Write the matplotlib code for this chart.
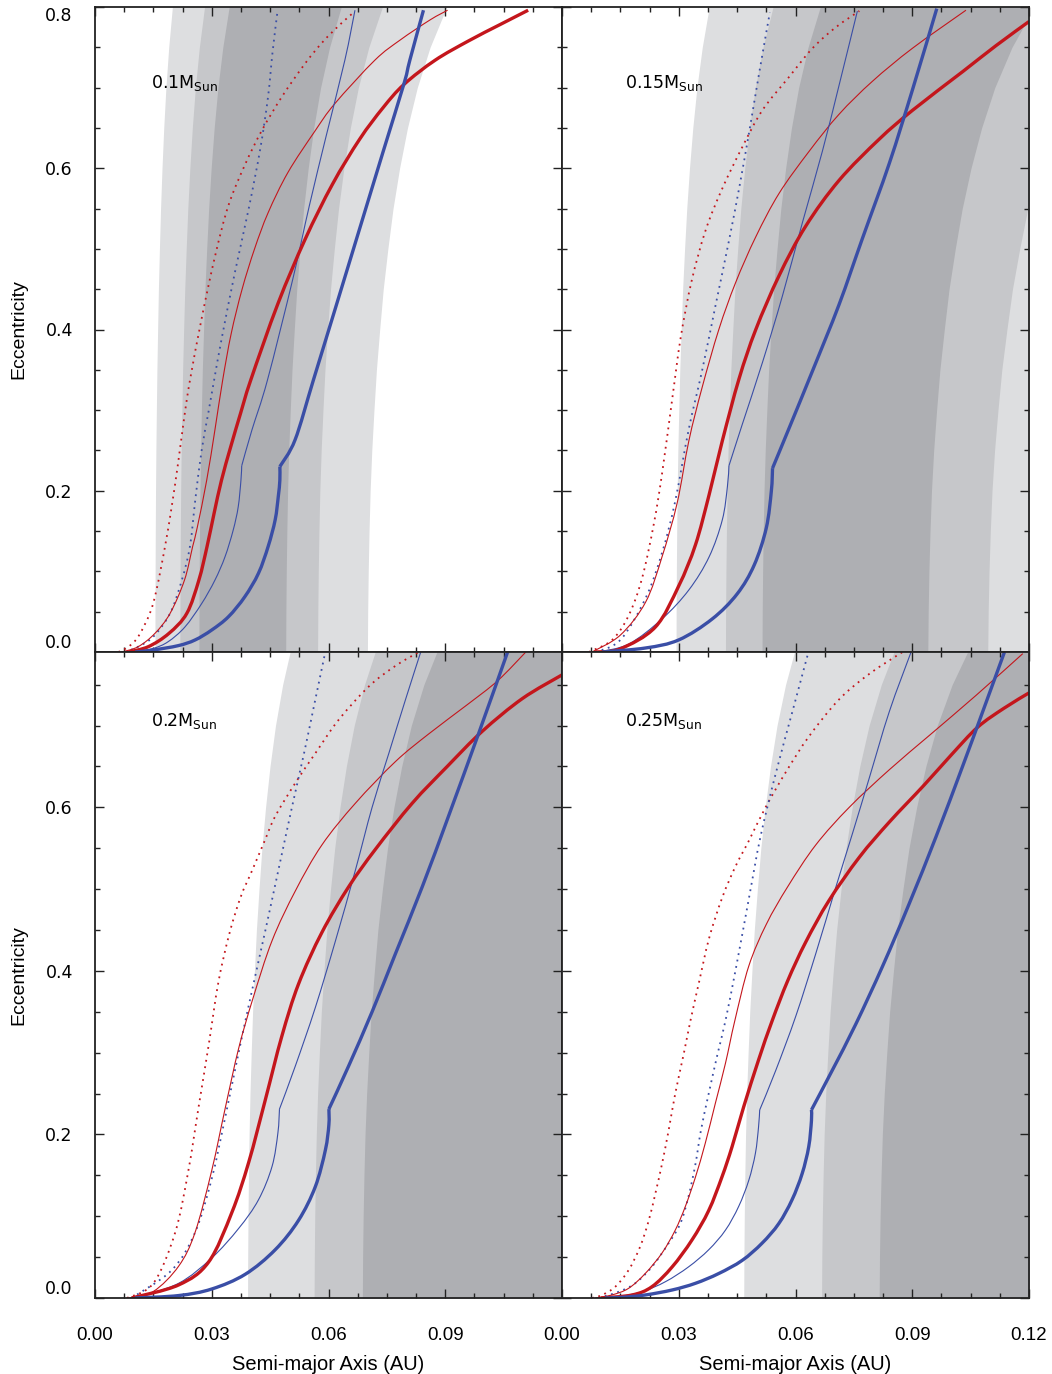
import numpy as np
import matplotlib
matplotlib.use('Agg')
import matplotlib.pyplot as plt
from matplotlib.ticker import MultipleLocator
from matplotlib.path import Path
from matplotlib.patches import PathPatch

plt.rcParams['font.family'] = ['Liberation Sans', 'DejaVu Sans']

# eccentricity grid used for the edges of the shaded bands, and how much
# the band edges move out with eccentricity
hz_ecc = [0.0, 0.05, 0.1, 0.15, 0.2, 0.25, 0.3, 0.35, 0.4, 0.45, 0.5,
          0.55, 0.6, 0.65, 0.7, 0.75, 0.8]
hz_stretch = [1.000, 1.001, 1.003, 1.006, 1.010, 1.016, 1.024, 1.033, 1.045,
              1.058, 1.075, 1.094, 1.118, 1.147, 1.183, 1.230, 1.291]

# circular-orbit edges of the nested bands (AU):
# outer left, middle left, inner left, inner right, middle right, outer right
hz_edges_010 = [0.0154, 0.0218, 0.0267, 0.0490, 0.0572, 0.0700]
hz_edges_015 = [0.0293, 0.0420, 0.0514, 0.0940, 0.1094, 0.1350]
hz_edges_020 = [0.0392, 0.0563, 0.0687, 0.1500, 0.1750, 0.2000]
hz_edges_025 = [0.0467, 0.0667, 0.0815, 0.1700, 0.2000, 0.2300]

# curves, (semi-major axis AU, eccentricity) pairs
# ---- 0.1 Msun
red_dot_010 = [(0.0060, 0), (0.0086, 0.0066), (0.0111, 0.019), (0.0141, 0.048), (0.0158, 0.077),
               (0.0180, 0.131), (0.0197, 0.180), (0.0214, 0.236), (0.0229, 0.290), (0.0244, 0.337),
               (0.0275, 0.416), (0.0309, 0.492), (0.0343, 0.554), (0.0386, 0.605), (0.0430, 0.648),
               (0.0482, 0.690), (0.0540, 0.730), (0.0582, 0.755), (0.0612, 0.770), (0.0638, 0.782),
               (0.0664, 0.793)]
red_thin_010 = [(0.0069, 0), (0.0111, 0.0066), (0.0154, 0.0231), (0.0193, 0.048), (0.0230, 0.0893),
                (0.0251, 0.131), (0.0263, 0.155), (0.0287, 0.213), (0.0308, 0.275), (0.0328, 0.337),
                (0.0350, 0.395), (0.0378, 0.450), (0.0410, 0.500), (0.0445, 0.545), (0.0496, 0.595),
                (0.0565, 0.646), (0.0616, 0.680), (0.0719, 0.734), (0.0784, 0.759), (0.0861, 0.784),
                (0.0906, 0.796)]
red_thick_010 = [(0.0086, 0), (0.0137, 0.0066), (0.0190, 0.0231), (0.0236, 0.048), (0.0267, 0.0893),
                 (0.0288, 0.131), (0.0306, 0.172), (0.0325, 0.213), (0.0349, 0.255), (0.0374, 0.296),
                 (0.0400, 0.337), (0.0470, 0.432), (0.0540, 0.512), (0.0610, 0.580), (0.0680, 0.636),
                 (0.0740, 0.675), (0.0794, 0.704), (0.0874, 0.734), (0.0960, 0.758), (0.1040, 0.778),
                 (0.1113, 0.796)]
blue_dot_010 = [(0.0077, 0), (0.0111, 0.0066), (0.0150, 0.019), (0.0193, 0.048), (0.0223, 0.089),
                (0.0244, 0.131), (0.0258, 0.190), (0.0274, 0.250), (0.0291, 0.296), (0.0306, 0.337),
                (0.0326, 0.390), (0.0360, 0.472), (0.0395, 0.550), (0.0425, 0.625), (0.0445, 0.690),
                (0.0456, 0.743), (0.0469, 0.795)]
blue_thin_010 = [(0.0103, 0), (0.0150, 0.0045), (0.0188, 0.0128), (0.0231, 0.031), (0.0274, 0.060),
                 (0.0308, 0.089), (0.0334, 0.118), (0.0355, 0.151), (0.0368, 0.180), (0.0375, 0.213),
                 (0.0377, 0.231), (0.0403, 0.275), (0.0443, 0.337), (0.0508, 0.462), (0.0551, 0.554),
                 (0.0594, 0.640), (0.0642, 0.734), (0.0668, 0.796)]
blue_thick_010 = [(0.0103, 0), (0.0150, 0.0025), (0.0214, 0.0079), (0.0257, 0.0149), (0.0300, 0.0273),
                  (0.0343, 0.0438), (0.0385, 0.0686), (0.0420, 0.0976), (0.0445, 0.131), (0.0463, 0.164),
                  (0.0471, 0.193), (0.0475, 0.213), (0.0475, 0.230), (0.0514, 0.263), (0.0561, 0.337),
                  (0.0620, 0.430), (0.0680, 0.525), (0.0740, 0.620), (0.0794, 0.705), (0.0809, 0.734),
                  (0.0844, 0.796)]

# ---- 0.15 Msun
red_dot_015 = [(0.0069, 0), (0.0129, 0.015), (0.0172, 0.046), (0.0206, 0.092), (0.0236, 0.159),
               (0.0257, 0.221), (0.0283, 0.313), (0.0305, 0.390), (0.0333, 0.460), (0.0369, 0.523),
               (0.0412, 0.575), (0.0463, 0.626), (0.0515, 0.672), (0.0583, 0.713), (0.0644, 0.749),
               (0.0704, 0.775), (0.0764, 0.795)]
red_thin_015 = [(0.0077, 0), (0.0150, 0.021), (0.0215, 0.062), (0.0257, 0.118), (0.0296, 0.185),
                (0.0326, 0.262), (0.0360, 0.328), (0.0403, 0.400), (0.0446, 0.458), (0.0498, 0.515),
                (0.0558, 0.569), (0.0635, 0.621), (0.0712, 0.667), (0.0798, 0.708), (0.0901, 0.749),
                (0.1038, 0.796)]
red_thick_015 = [(0.0086, 0), (0.0150, 0.004), (0.0240, 0.031), (0.0300, 0.082), (0.0343, 0.133),
                 (0.0378, 0.195), (0.0412, 0.262), (0.0455, 0.339), (0.0498, 0.400), (0.0558, 0.467),
                 (0.0626, 0.528), (0.0712, 0.585), (0.0815, 0.636), (0.0901, 0.672), (0.1030, 0.720),
                 (0.1115, 0.752), (0.1200, 0.782)]
blue_dot_015 = [(0.0086, 0), (0.0150, 0.015), (0.0215, 0.067), (0.0257, 0.123), (0.0290, 0.185),
                (0.0326, 0.277), (0.0360, 0.349), (0.0395, 0.431), (0.0429, 0.510), (0.0457, 0.580),
                (0.0482, 0.648), (0.0508, 0.722), (0.0534, 0.793)]
blue_thin_015 = [(0.0094, 0), (0.0172, 0.010), (0.0257, 0.041), (0.0326, 0.077), (0.0378, 0.118),
                 (0.0412, 0.164), (0.0425, 0.205), (0.0429, 0.231), (0.0463, 0.282), (0.0515, 0.359),
                 (0.0566, 0.441), (0.0618, 0.533), (0.0669, 0.621), (0.0712, 0.703), (0.0759, 0.795)]
blue_thick_015 = [(0.0103, 0), (0.0215, 0.005), (0.0300, 0.015), (0.0386, 0.041), (0.0450, 0.072),
                  (0.0494, 0.108), (0.0525, 0.154), (0.0538, 0.200), (0.0541, 0.228), (0.0583, 0.277),
                  (0.0644, 0.349), (0.0712, 0.431), (0.0772, 0.513), (0.0841, 0.606), (0.0901, 0.698),
                  (0.0963, 0.798)]

# ---- 0.2 Msun
red_dot_020 = [(0.0082, 0), (0.0150, 0.018), (0.0206, 0.080), (0.0240, 0.156), (0.0266, 0.233),
               (0.0292, 0.309), (0.0317, 0.386), (0.0345, 0.445), (0.0374, 0.490), (0.0403, 0.522),
               (0.0435, 0.558), (0.0463, 0.589), (0.0515, 0.630), (0.0566, 0.666), (0.0626, 0.707),
               (0.0704, 0.748), (0.0772, 0.773), (0.0832, 0.790)]
red_thin_020 = [(0.0086, 0), (0.0150, 0.008), (0.0215, 0.039), (0.0257, 0.080), (0.0300, 0.156),
                (0.0335, 0.233), (0.0369, 0.305), (0.0405, 0.365), (0.0455, 0.437), (0.0515, 0.498),
                (0.0583, 0.554), (0.0669, 0.605), (0.0772, 0.656), (0.0858, 0.690), (0.0955, 0.725),
                (0.1035, 0.755), (0.1107, 0.790)]
red_thick_020 = [(0.0094, 0), (0.0215, 0.016), (0.0292, 0.044), (0.0352, 0.105), (0.0395, 0.166),
                 (0.0438, 0.243), (0.0480, 0.320), (0.0523, 0.384), (0.0583, 0.447), (0.0652, 0.503),
                 (0.0721, 0.549), (0.0815, 0.605), (0.0905, 0.650), (0.0995, 0.693), (0.1098, 0.733),
                 (0.1200, 0.762)]
blue_dot_020 = [(0.0094, 0), (0.0197, 0.034), (0.0257, 0.080), (0.0300, 0.146), (0.0335, 0.222),
                (0.0369, 0.300), (0.0403, 0.375), (0.0438, 0.450), (0.0472, 0.525), (0.0506, 0.600),
                (0.0538, 0.668), (0.0564, 0.727), (0.0590, 0.786)]
blue_thin_020 = [(0.0103, 0), (0.0215, 0.018), (0.0300, 0.049), (0.0369, 0.085), (0.0420, 0.120),
                 (0.0455, 0.161), (0.0470, 0.202), (0.0474, 0.231), (0.0515, 0.284), (0.0566, 0.355),
                 (0.0618, 0.437), (0.0669, 0.523), (0.0712, 0.600), (0.0755, 0.666), (0.0798, 0.732),
                 (0.0837, 0.790)]
blue_thick_020 = [(0.0103, 0), (0.0215, 0.003), (0.0300, 0.011), (0.0386, 0.029), (0.0463, 0.059),
                  (0.0523, 0.095), (0.0566, 0.136), (0.0592, 0.181), (0.0601, 0.212), (0.0601, 0.231),
                  (0.0652, 0.284), (0.0712, 0.350), (0.0772, 0.421), (0.0841, 0.503), (0.0909, 0.590),
                  (0.0987, 0.692), (0.1061, 0.791)]

# ---- 0.25 Msun
red_dot_025 = [(0.0077, 0), (0.0103, 0.0037), (0.0137, 0.0138), (0.0171, 0.034), (0.0201, 0.063),
               (0.0223, 0.095), (0.0240, 0.128), (0.0257, 0.164), (0.0274, 0.205), (0.0291, 0.250),
               (0.0313, 0.299), (0.0330, 0.339), (0.0352, 0.386), (0.0378, 0.440), (0.0412, 0.490),
               (0.0446, 0.528), (0.0480, 0.559), (0.0523, 0.600), (0.0575, 0.643), (0.0635, 0.687),
               (0.0712, 0.732), (0.0789, 0.763), (0.0875, 0.790)]
red_thin_025 = [(0.0086, 0), (0.0128, 0.0037), (0.0171, 0.0118), (0.0214, 0.030), (0.0257, 0.055),
                (0.0291, 0.083), (0.0317, 0.112), (0.0343, 0.148), (0.0368, 0.189), (0.0394, 0.238),
                (0.0420, 0.287), (0.0444, 0.339), (0.0480, 0.406), (0.0525, 0.457), (0.0580, 0.503),
                (0.0652, 0.554), (0.0738, 0.600), (0.0841, 0.646), (0.0944, 0.688), (0.1064, 0.737),
                (0.1184, 0.788)]
red_thick_025 = [(0.0100, 0), (0.0180, 0.0037), (0.0231, 0.0138), (0.0283, 0.038), (0.0334, 0.071),
                 (0.0377, 0.107), (0.0411, 0.148), (0.0437, 0.185), (0.0467, 0.234), (0.0505, 0.291),
                 (0.0540, 0.339), (0.0580, 0.388), (0.0626, 0.435), (0.0686, 0.486), (0.0764, 0.539),
                 (0.0841, 0.582), (0.0930, 0.627), (0.1000, 0.664), (0.1068, 0.698), (0.1135, 0.721),
                 (0.1200, 0.740)]
blue_dot_025 = [(0.0094, 0), (0.0146, 0.0077), (0.0188, 0.018), (0.0231, 0.038), (0.0274, 0.067),
                (0.0304, 0.091), (0.0325, 0.124), (0.0343, 0.164), (0.0357, 0.205), (0.0377, 0.250),
                (0.0400, 0.299), (0.0420, 0.339), (0.0448, 0.406), (0.0480, 0.488), (0.0510, 0.564),
                (0.0549, 0.641), (0.0592, 0.717), (0.0631, 0.786)]
blue_thin_025 = [(0.0103, 0), (0.0146, 0.0016), (0.0206, 0.0077), (0.0266, 0.020), (0.0325, 0.038),
                 (0.0377, 0.059), (0.0420, 0.083), (0.0454, 0.112), (0.0480, 0.144), (0.0497, 0.177),
                 (0.0505, 0.209), (0.0508, 0.230), (0.0549, 0.278), (0.0601, 0.345), (0.0652, 0.421),
                 (0.0704, 0.503), (0.0747, 0.569), (0.0789, 0.635), (0.0841, 0.717), (0.0897, 0.790)]
blue_thick_025 = [(0.0111, 0), (0.0154, 0.0008), (0.0214, 0.0037), (0.0283, 0.0098), (0.0343, 0.018),
                  (0.0403, 0.030), (0.0463, 0.046), (0.0514, 0.067), (0.0557, 0.091), (0.0591, 0.120),
                  (0.0617, 0.152), (0.0634, 0.185), (0.0641, 0.217), (0.0641, 0.230), (0.0694, 0.278),
                  (0.0755, 0.335), (0.0824, 0.406), (0.0892, 0.482), (0.0961, 0.564), (0.1030, 0.651),
                  (0.1081, 0.717), (0.1137, 0.790)]

# eccentricity where the blue curves have their corner
kink_ecc = 0.23

mass_labels = ['0.1', '0.15', '0.2', '0.25']

band_colors = ['#dddee0', '#c6c7ca', '#aeafb3']
red = '#c4161c'
blue = '#3a4ea6'

panels = [
    (hz_edges_010, red_dot_010, red_thin_010, red_thick_010, blue_dot_010, blue_thin_010, blue_thick_010),
    (hz_edges_015, red_dot_015, red_thin_015, red_thick_015, blue_dot_015, blue_thin_015, blue_thick_015),
    (hz_edges_020, red_dot_020, red_thin_020, red_thick_020, blue_dot_020, blue_thin_020, blue_thick_020),
    (hz_edges_025, red_dot_025, red_thin_025, red_thick_025, blue_dot_025, blue_thin_025, blue_thick_025),
]


def smooth_path(pts):
    # Catmull-Rom through the read points, handed to matplotlib as Bezier segments
    p = np.asarray(pts, dtype=float)
    n = len(p)
    verts = [p[0]]
    codes = [Path.MOVETO]
    for i in range(n - 1):
        p0 = p[i - 1] if i > 0 else p[i]
        p1, p2 = p[i], p[i + 1]
        p3 = p[i + 2] if i + 2 < n else p[i + 1]
        verts += [p1 + (p2 - p0) / 6.0, p2 - (p3 - p1) / 6.0, p2]
        codes += [Path.CURVE4] * 3
    return Path(verts, codes)


def draw_curve(ax, pts, kink=False, **kw):
    pts = np.asarray(pts, dtype=float)
    if kink:
        k = int(np.argmin(np.abs(pts[:, 1] - kink_ecc)))
        pieces = [pts[:k + 1], pts[k:]]
    else:
        pieces = [pts]
    for piece in pieces:
        ax.add_patch(PathPatch(smooth_path(piece), fill=False, **kw))


W, H = 1052, 1374
fig = plt.figure(figsize=(W / 100, H / 100), dpi=100)

# panel boxes in pixels: left, top, right, bottom
boxes = [(95, 7, 562, 652), (562, 7, 1029, 652),
         (95, 652, 562, 1298), (562, 652, 1029, 1298)]
ytop = [0.8, 0.8, 0.79, 0.79]

ecc = np.array(hz_ecc)
stretch = np.array(hz_stretch)

for ip in range(4):
    l, t, r, b = boxes[ip]
    ax = fig.add_axes([l / W, 1 - b / H, (r - l) / W, (b - t) / H])
    edges, rdot, rthin, rthick, bdot, bthin, bthick = panels[ip]

    # nested shaded bands
    for k in range(3):
        ax.fill_betweenx(ecc, edges[k] * stretch, edges[5 - k] * stretch,
                         color=band_colors[k], lw=0, zorder=1)

    dots = (0, (1, 2.6))
    draw_curve(ax, rdot, ec=red, lw=1.3, ls=dots, zorder=3)
    draw_curve(ax, bdot, ec=blue, lw=1.3, ls=dots, zorder=3)
    draw_curve(ax, rthin, ec=red, lw=0.8, zorder=3)
    draw_curve(ax, bthin, kink=True, ec=blue, lw=0.8, zorder=3)
    draw_curve(ax, rthick, ec=red, lw=2.4, zorder=4)
    draw_curve(ax, bthick, kink=True, ec=blue, lw=2.4, zorder=4)

    ax.set_xlim(0, 0.12)
    ax.set_ylim(0, ytop[ip])

    ax.xaxis.set_major_locator(MultipleLocator(0.03))
    ax.xaxis.set_minor_locator(MultipleLocator(0.0075))
    ax.yaxis.set_major_locator(MultipleLocator(0.2))
    ax.yaxis.set_minor_locator(MultipleLocator(0.05))
    ax.tick_params(which='both', direction='in', top=True, right=True,
                   width=1.0, colors='#222222', labelcolor='black')
    ax.tick_params(which='major', length=6.5)
    ax.tick_params(which='minor', length=3.5)
    for sp in ax.spines.values():
        sp.set_linewidth(1.3)
        sp.set_color('#222222')
        sp.set_zorder(6)

    if ip < 2:
        ax.tick_params(labelbottom=False)
    else:
        ax.set_xticks([0, 0.03, 0.06, 0.09, 0.12])
        if ip == 2:
            ax.set_xticklabels(['0.00', '0.03', '0.06', '0.09', ''])
        else:
            ax.set_xticklabels(['0.00', '0.03', '0.06', '0.09', '0.12'])
        ax.tick_params(axis='x', pad=21, labelsize=13.5)
        ax.set_xlabel('Semi-major Axis (AU)', fontsize=14.5, labelpad=8)

    if ip % 2 == 1:
        ax.tick_params(labelleft=False)
    else:
        ax.set_ylabel('Eccentricity', fontsize=14, labelpad=13)
        if ip == 0:
            ax.set_yticks([0, 0.2, 0.4, 0.6, 0.8])
            ax.set_yticklabels(['0.0', '0.2', '0.4', '0.6', '0.8'])
        else:
            ax.set_yticks([0, 0.2, 0.4, 0.6])
            ax.set_yticklabels(['0.0', '0.2', '0.4', '0.6'])
        ax.tick_params(axis='y', pad=16)
        labs = ax.get_yticklabels()
        for lab in labs:
            lab.set_fontfamily('DejaVu Sans')
            lab.set_fontsize(12.5)
        labs[0].set_verticalalignment('bottom')
        if ip == 0:
            labs[-1].set_verticalalignment('top')

    ax.text(0.0145 if ip % 2 == 0 else 0.0162, 0.70,
            mass_labels[ip] + r'M$_{\mathregular{Sun}}$', fontsize=12.5,
            family='DejaVu Sans', zorder=7)

fig.savefig('out.png', dpi=100)
